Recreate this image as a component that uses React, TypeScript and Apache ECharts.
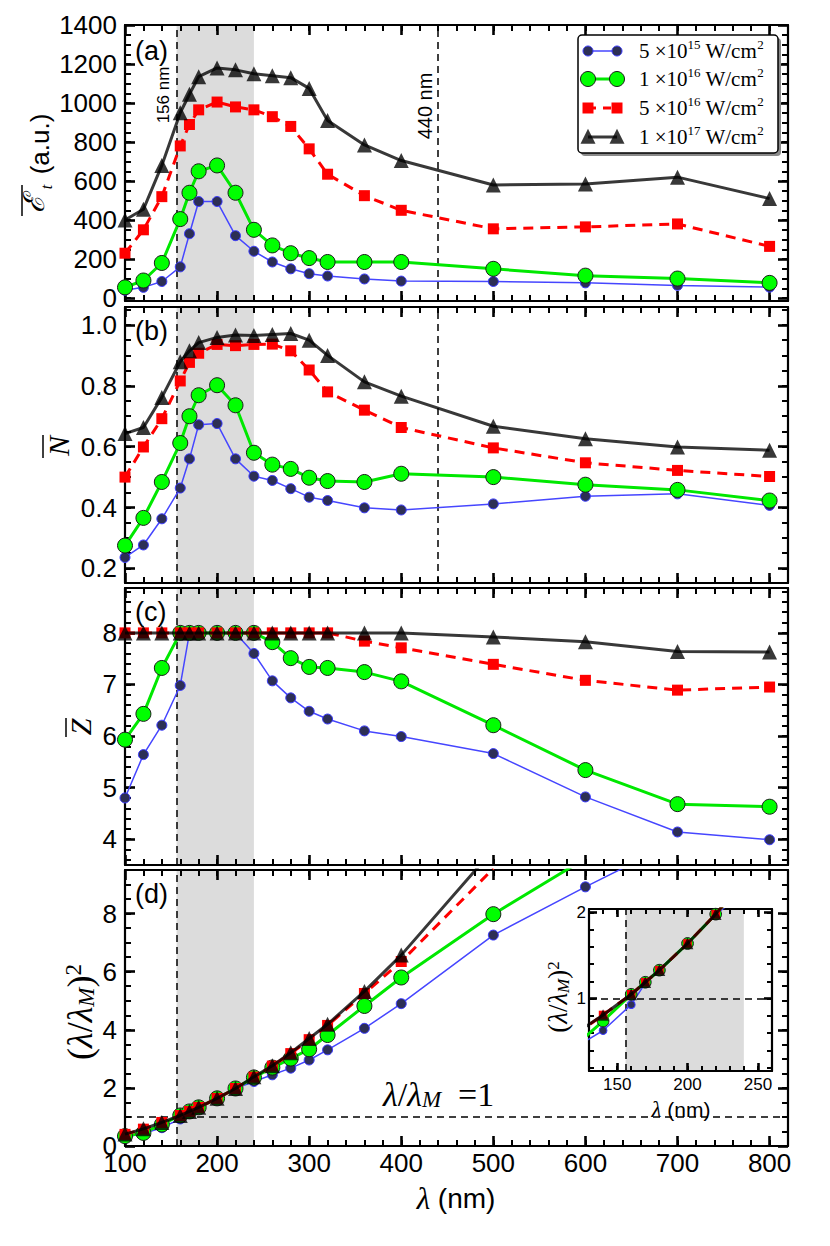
import React, { useEffect, useRef } from "react";
import * as echarts from "echarts";

// ---------------- data ----------------
const lambdaNm = [100, 120, 140, 160, 170, 180, 200, 220, 240, 260, 280, 300, 320, 360, 400, 500, 600, 700, 800];

const seriesNames = ["5×10^15 W/cm^2", "1×10^16 W/cm^2", "5×10^16 W/cm^2", "1×10^17 W/cm^2"];
const legendCoeff = ["5", "1", "5", "1"];
const legendExp = ["15", "16", "16", "17"];

// (a) mean energy (a.u.)
const energy5e15 = [40, 55, 85, 160, 330, 495, 495, 320, 240, 185, 150, 125, 113, 98, 87, 85, 78, 65, 56];
const energy1e16 = [55, 90, 180, 405, 540, 650, 680, 540, 350, 270, 230, 205, 185, 185, 185, 150, 115, 100, 78];
const energy5e16 = [230, 350, 520, 780, 890, 965, 1005, 980, 965, 930, 880, 765, 635, 525, 450, 355, 365, 380, 265];
const energy1e17 = [400, 455, 680, 950, 1045, 1135, 1180, 1170, 1150, 1140, 1130, 1075, 910, 785, 705, 580, 585, 620, 510];

// (b) N bar
const nbar5e15 = [0.236, 0.277, 0.363, 0.464, 0.56, 0.672, 0.676, 0.56, 0.503, 0.489, 0.462, 0.434, 0.423, 0.399, 0.392, 0.412, 0.437, 0.445, 0.407];
const nbar1e16 = [0.275, 0.366, 0.484, 0.612, 0.7, 0.769, 0.802, 0.736, 0.58, 0.541, 0.527, 0.498, 0.487, 0.484, 0.511, 0.5, 0.475, 0.458, 0.423];
const nbar5e16 = [0.5, 0.599, 0.692, 0.816, 0.877, 0.907, 0.936, 0.932, 0.936, 0.937, 0.915, 0.852, 0.78, 0.72, 0.663, 0.596, 0.547, 0.522, 0.502];
const nbar1e17 = [0.643, 0.663, 0.762, 0.879, 0.915, 0.942, 0.959, 0.967, 0.965, 0.969, 0.972, 0.95, 0.9, 0.813, 0.766, 0.667, 0.626, 0.599, 0.588];

// (c) Z bar
const zbar5e15 = [4.8, 5.64, 6.21, 6.98, 8, 8, 8, 8, 7.6, 7.07, 6.74, 6.48, 6.33, 6.1, 5.99, 5.66, 4.82, 4.14, 3.99];
const zbar1e16 = [5.93, 6.43, 7.32, 8, 8, 8, 8, 8, 8, 7.82, 7.51, 7.34, 7.32, 7.24, 7.06, 6.21, 5.34, 4.68, 4.63];
const zbar5e16 = [8, 8, 8, 8, 8, 8, 8, 8, 8, 8, 8, 8, 8, 7.84, 7.71, 7.39, 7.08, 6.89, 6.95];
const zbar1e17 = [8, 8, 8, 8, 8, 8, 8, 8, 8, 8, 8, 8, 8, 8, 8, 7.92, 7.83, 7.64, 7.63];

// (d) (lambda / lambda_M)^2
const ratio5e15 = [0.3, 0.43, 0.63, 0.93, 1.18, 1.33, 1.64, 1.98, 2.22, 2.45, 2.68, 2.96, 3.31, 4.05, 4.9, 7.26, 8.92, 10.5, null];
const ratio1e16 = [0.34, 0.45, 0.74, 1.05, 1.19, 1.33, 1.64, 1.98, 2.36, 2.7, 3.01, 3.33, 3.82, 4.82, 5.8, 7.98, 9.9, null, null];
const ratio5e16 = [0.4, 0.58, 0.81, 1.05, 1.19, 1.33, 1.64, 1.98, 2.37, 2.75, 3.18, 3.66, 4.15, 5.25, 6.35, 9.55, null, null, null];
const ratio1e17 = [0.41, 0.59, 0.81, 1.05, 1.19, 1.33, 1.64, 1.98, 2.38, 2.76, 3.21, 3.7, 4.19, 5.32, 6.57, 10.2, null, null, null];

// reference lines / region
const lambdaM = 156;
const shadeEnd = 240;
const refLambda = 440;
const ratioOne = 1;

// tick values
const steps = (a: number, b: number, d: number) => {
  const out: number[] = [];
  const n = Math.round((b - a) / d);
  for (let i = 0; i <= n; i++) out.push(+(a + i * d).toFixed(4));
  return out;
};
const xMajorTicks = [100, 200, 300, 400, 500, 600, 700, 800];
const xMinorTicks = steps(100, 820, 20);
const energyTicks = [0, 200, 400, 600, 800, 1000, 1200, 1400];
const energyMinor = steps(0, 1400, 50);
const nbarTicks = [0.2, 0.4, 0.6, 0.8, 1.0];
const nbarMinor = steps(0.2, 1.05, 0.05);
const zbarTicks = [4, 5, 6, 7, 8];
const zbarMinor = steps(3.6, 8.8, 0.2);
const ratioTicks = [0, 2, 4, 6, 8];
const ratioMinor = steps(0, 9.5, 0.5);
const insetXTicks = [150, 200, 250];
const insetXMinor = steps(130, 260, 10);
const insetYTicks = [1, 2];
const insetYMinor = steps(0.2, 2.0, 0.2);

// ---------------- styles ----------------
const LABEL_FONT = "Liberation Sans";
const SERIF = "Liberation Serif";
const seriesStyles = [
  { line: "#4646ff", width: 1.5, dash: "solid", symbol: "circle", size: 10, fill: "#2d2f55", border: "#3a3aff", bw: 1 },
  { line: "#00e800", width: 3, dash: "solid", symbol: "circle", size: 15, fill: "#00ff00", border: "#1a1a1a", bw: 1 },
  { line: "#ff0000", width: 3, dash: [10, 7], symbol: "rect", size: 11, fill: "#ff0000", border: "#ff0000", bw: 0 },
  { line: "rgba(0,0,0,0.78)", width: 3, dash: "solid", symbol: "triangle", size: 15, fill: "rgba(0,0,0,0.78)", border: "rgba(0,0,0,0)", bw: 0 },
];

function buildOption() {
  const grid: any[] = [];
  const xAxis: any[] = [];
  const yAxis: any[] = [];
  const series: any[] = [];

  const addPanel = (cfg: any) => {
    const gi = grid.length;
    grid.push({ left: cfg.left, top: cfg.top, width: cfg.width, height: cfg.height, show: false });
    const mk = (dim: "x" | "y", pos: string, ticks: number[], len: number, major: boolean, labels: any) => ({
      type: "value",
      gridIndex: gi,
      position: pos,
      min: dim === "x" ? cfg.xMin : cfg.yMin,
      max: dim === "x" ? cfg.xMax : cfg.yMax,
      z: 2,
      silent: true,
      axisLine: { show: major, onZero: false, lineStyle: { color: "#000", width: 2.2 } },
      axisTick: {
        show: true,
        inside: true,
        length: len,
        customValues: ticks,
        lineStyle: { color: "#000", width: major ? 2.6 : 2 },
      },
      axisLabel: labels
        ? {
            show: true,
            customValues: ticks,
            fontSize: cfg.labelSize,
            fontFamily: LABEL_FONT,
            color: "#000",
            margin: labels.margin,
            formatter: labels.fmt,
            showMinLabel: true,
            showMaxLabel: true,
          }
        : { show: false },
      splitLine: { show: false },
      minorTick: { show: false },
      minorSplitLine: { show: false },
      axisPointer: { show: false },
    });
    const xi = xAxis.length;
    xAxis.push(mk("x", "bottom", cfg.xMajor, cfg.majorLen, true, cfg.xLabels ? { margin: cfg.xMargin, fmt: (v: number) => String(v) } : null));
    xAxis.push(mk("x", "bottom", cfg.xMinor, cfg.minorLen, false, null));
    xAxis.push(mk("x", "top", cfg.xMajor, cfg.majorLen, true, null));
    xAxis.push(mk("x", "top", cfg.xMinor, cfg.minorLen, false, null));
    const yi = yAxis.length;
    yAxis.push(mk("y", "left", cfg.yMajor, cfg.majorLen, true, { margin: cfg.yMargin, fmt: cfg.yFmt }));
    yAxis.push(mk("y", "left", cfg.yMinor, cfg.minorLen, false, null));
    yAxis.push(mk("y", "right", cfg.yMajor, cfg.majorLen, true, null));
    yAxis.push(mk("y", "right", cfg.yMinor, cfg.minorLen, false, null));

    // shaded region and dashed reference lines
    const markLineData: any[] = [];
    (cfg.vLines || []).forEach((v: number) => markLineData.push({ xAxis: v }));
    (cfg.hLines || []).forEach((v: number) => markLineData.push({ yAxis: v }));
    series.push({
      type: "line",
      xAxisIndex: xi,
      yAxisIndex: yi,
      data: [],
      z: 1,
      silent: true,
      markArea: {
        silent: true,
        z: 1,
        itemStyle: { color: "#dcdcdc" },
        label: { show: false },
        data: [[{ xAxis: lambdaM }, { xAxis: shadeEnd }]],
      },
      markLine: {
        silent: true,
        z: 2,
        symbol: ["none", "none"],
        label: { show: false },
        lineStyle: { color: "#000", type: [7, 5], width: 1.5 },
        data: markLineData,
      },
    });

    cfg.data.forEach((vals: (number | null)[], k: number) => {
      const s = seriesStyles[k];
      series.push({
        type: "line",
        name: seriesNames[k],
        xAxisIndex: xi,
        yAxisIndex: yi,
        data: lambdaNm.map((x, i) => [x, vals[i] === null ? "-" : vals[i]]),
        z: 3 + k,
        clip: true,
        silent: true,
        connectNulls: false,
        showSymbol: true,
        symbol: s.symbol,
        symbolSize: s.size * cfg.symbolScale,
        lineStyle: { color: s.line, width: s.width * cfg.lineScale, type: s.dash },
        itemStyle: { color: s.fill, borderColor: s.border, borderWidth: s.bw },
        emphasis: { disabled: true },
      });
    });
  };

  const base = {
    left: 125,
    width: 663,
    xMin: 100,
    xMax: 820,
    xMajor: xMajorTicks,
    xMinor: xMinorTicks,
    majorLen: 10,
    minorLen: 6,
    labelSize: 26,
    xMargin: 4,
    yMargin: 8,
    symbolScale: 1,
    lineScale: 1,
    xLabels: false,
    yFmt: (v: number) => String(v),
  };

  addPanel({ ...base, top: 25, height: 276, yMin: -15, yMax: 1400, yMajor: energyTicks, yMinor: energyMinor,
    data: [energy5e15, energy1e16, energy5e16, energy1e17], vLines: [lambdaM, refLambda] });
  addPanel({ ...base, top: 307, height: 276, yMin: 0.152, yMax: 1.059, yMajor: nbarTicks, yMinor: nbarMinor,
    yFmt: (v: number) => v.toFixed(1),
    data: [nbar5e15, nbar1e16, nbar5e16, nbar1e17], vLines: [lambdaM, refLambda] });
  addPanel({ ...base, top: 588, height: 277, yMin: 3.5, yMax: 8.87, yMajor: zbarTicks, yMinor: zbarMinor,
    data: [zbar5e15, zbar1e16, zbar5e16, zbar1e17], vLines: [lambdaM] });
  addPanel({ ...base, top: 870, height: 276, yMin: 0, yMax: 9.5, yMajor: ratioTicks, yMinor: ratioMinor, xLabels: true,
    data: [ratio5e15, ratio1e16, ratio5e16, ratio1e17], vLines: [lambdaM], hLines: [ratioOne] });
  // inset
  addPanel({ ...base, left: 589, width: 183, top: 909, height: 162, xMin: 130, xMax: 260, xMajor: insetXTicks, xMinor: insetXMinor,
    yMin: 0.16, yMax: 2.04, yMajor: insetYTicks, yMinor: insetYMinor, majorLen: 8, minorLen: 5, labelSize: 17,
    xMargin: 5, yMargin: 3, xLabels: true, symbolScale: 0.78, lineScale: 1,
    data: [ratio5e15, ratio1e16, ratio5e16, ratio1e17], vLines: [lambdaM], hLines: [ratioOne] });

  // ---------- graphic: texts, legend ----------
  const R = Math.PI / 2;
  const txt = (x: number, y: number, text: string, o: any = {}) => ({
    type: "text",
    x,
    y,
    rotation: o.rot || 0,
    z: 50,
    silent: true,
    style: {
      text,
      fill: "#000",
      fontSize: o.size || 26,
      fontFamily: o.family || LABEL_FONT,
      fontStyle: o.italic ? "italic" : "normal",
      align: o.align || "center",
      verticalAlign: o.va || "middle",
      textAlign: o.align || "center",
      textVerticalAlign: o.va || "middle",
      rich: o.rich,
    },
  });
  const ln = (x1: number, y1: number, x2: number, y2: number, w = 1.5, color = "#000", dash: any = null) => ({
    type: "line",
    z: 50,
    silent: true,
    shape: { x1, y1, x2, y2 },
    style: { stroke: color, lineWidth: w, lineDash: dash },
  });

  const mathRich = (size: number, sub: number) => ({
    u: { fontFamily: SERIF, fontSize: size, fontStyle: "normal" },
    i: { fontFamily: SERIF, fontSize: size, fontStyle: "italic" },
    s: { fontFamily: SERIF, fontSize: sub, fontStyle: "italic", verticalAlign: "bottom" },
    p: { fontFamily: SERIF, fontSize: sub, fontStyle: "normal", verticalAlign: "top" },
  });

  const elements: any[] = [
    // panel letters
    txt(135, 51, "(a)", { size: 27, align: "left" }),
    txt(135, 331, "(b)", { size: 27, align: "left" }),
    txt(135, 612, "(c)", { size: 27, align: "left" }),
    txt(135, 894, "(d)", { size: 27, align: "left" }),
    // line labels
    txt(163, 95, "156 nm", { size: 17, rot: R }),
    txt(425, 106, "440 nm", { size: 20, rot: R }),
    // (a) y title
    txt(40, 144, "(a.u.)", { size: 26, rot: R }),
    txt(34, 204, "ℰ", { size: 29, rot: R, family: "DejaVu Serif", italic: true }),
    txt(46, 187, "t", { size: 16, rot: R, family: SERIF, italic: true }),
    ln(22, 185, 22, 216),
    // (b) y title
    txt(58, 446, "N", { size: 30, rot: R, family: SERIF, italic: true }),
    ln(43, 435, 43, 458),
    // (c) y title
    txt(80, 727, "Z", { size: 30, rot: R, family: SERIF, italic: true }),
    ln(66, 718, 66, 737),
    // (d) y title
    txt(80, 1012, "{u|(}{i|λ}{u|/}{i|λ}{s|M}{u|)}{p|2}", { size: 34, rot: R, rich: mathRich(36, 23) }),
    // inset y title
    txt(558, 997, "{u|(}{i|λ}{u|/}{i|λ}{s|M}{u|)}{p|2}", { size: 26, rot: R, rich: mathRich(27, 17) }),
    // annotation λ/λM = 1
    txt(383, 1094, "{i|λ}{u|/}{i|λ}{s|M}{u|  =1}", { size: 33, align: "left", rich: mathRich(34, 23) }),
    // x titles
    txt(456, 1198, "{i|λ}{n| (nm)}", {
      size: 28,
      rich: { i: { fontFamily: SERIF, fontStyle: "italic", fontSize: 31 }, n: { fontFamily: LABEL_FONT, fontSize: 28 } },
    }),
    txt(681, 1109, "{i|λ}{n| (nm)}", {
      size: 21,
      rich: { i: { fontFamily: SERIF, fontStyle: "italic", fontSize: 23 }, n: { fontFamily: LABEL_FONT, fontSize: 21 } },
    }),
  ];

  // legend
  const lgX = 578, lgY = 35, lgW = 200, lgH = 118;
  elements.push({ type: "rect", z: 60, silent: true, shape: { x: lgX + 3, y: lgY + 3, width: lgW, height: lgH, r: 4 }, style: { fill: "#8a8a8a" } });
  elements.push({ type: "rect", z: 61, silent: true, shape: { x: lgX, y: lgY, width: lgW, height: lgH, r: 4 }, style: { fill: "#fff", stroke: "#000", lineWidth: 1.5 } });
  const rowY = [51, 79, 108, 137];
  const mx1 = 588, mx2 = 617;
  seriesStyles.forEach((s, k) => {
    const y = rowY[k];
    elements.push({
      type: "line", z: 62, silent: true,
      shape: { x1: mx1, y1: y, x2: mx2, y2: y },
      style: { stroke: s.line, lineWidth: s.width, lineDash: Array.isArray(s.dash) ? [8, 7] : null },
    });
    [mx1, mx2].forEach((cx) => {
      if (s.symbol === "circle") {
        elements.push({ type: "circle", z: 63, silent: true, shape: { cx, cy: y, r: s.size / 2 }, style: { fill: s.fill, stroke: s.border, lineWidth: s.bw } });
      } else if (s.symbol === "rect") {
        elements.push({ type: "rect", z: 63, silent: true, shape: { x: cx - s.size / 2, y: y - s.size / 2, width: s.size, height: s.size }, style: { fill: s.fill } });
      } else {
        const h = s.size;
        elements.push({
          type: "polygon", z: 63, silent: true,
          shape: { points: [[cx, y - h * 0.55], [cx - h / 2, y + h * 0.45], [cx + h / 2, y + h * 0.45]] },
          style: { fill: s.fill },
        });
      }
    });
    elements.push({
      type: "text", z: 64, silent: true, x: 639, y,
      style: {
        text: `{n|${legendCoeff[k]} ×10}{s|${legendExp[k]}}{n| W/cm}{s|2}`,
        fill: "#000",
        align: "left", verticalAlign: "middle", textAlign: "left", textVerticalAlign: "middle",
        rich: {
          n: { fontFamily: SERIF, fontSize: 21, lineHeight: 26 },
          s: { fontFamily: SERIF, fontSize: 13, verticalAlign: "top", lineHeight: 14 },
        },
      },
    });
  });

  return {
    animation: false,
    backgroundColor: "#fff",
    grid,
    xAxis,
    yAxis,
    series,
    graphic: { elements },
  };
}

export default function App() {
  const ref = useRef<HTMLDivElement>(null);
  useEffect(() => {
    if (!ref.current) return;
    const chart = echarts.init(ref.current, null, { renderer: "svg" });
    chart.setOption(buildOption() as any);
    return () => chart.dispose();
  }, []);
  return (
    <div
      ref={ref}
      style={{ position: "absolute", left: 0, top: 0, width: 830, height: 1246, background: "#fff" }}
    />
  );
}
